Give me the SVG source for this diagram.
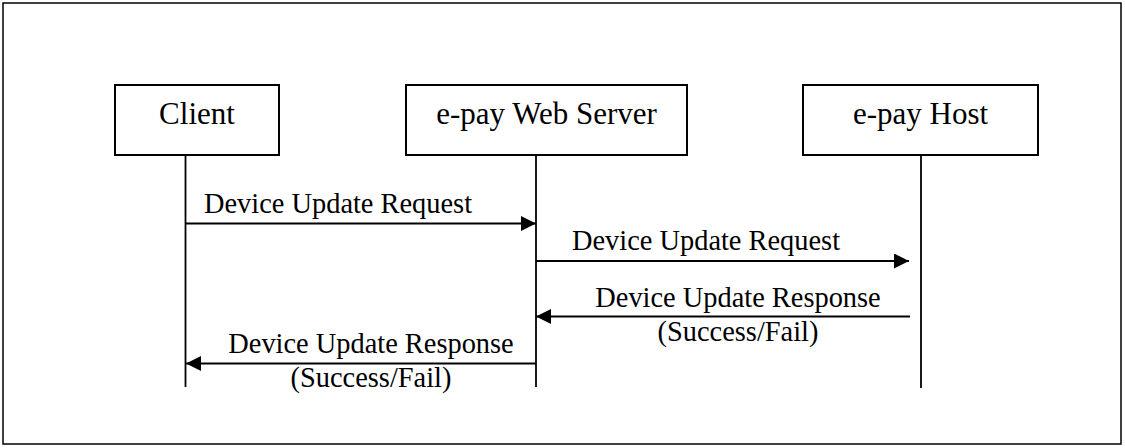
<svg xmlns="http://www.w3.org/2000/svg" width="1125" height="448" viewBox="0 0 1125 448">
  <style>
    .frame { fill: none; stroke: #000; stroke-width: 1.5; }
    .box { fill: #fff; stroke: #000; stroke-width: 2; }
    .life { fill: none; stroke: #000; stroke-width: 1.8; }
    .msg { fill: none; stroke: #000; stroke-width: 1.8; }
    .lbl { font-family: "Liberation Serif", "Times New Roman", serif; font-size: 31px; fill: #000; text-anchor: middle; }
    .mtxt { font-family: "Liberation Serif", "Times New Roman", serif; font-size: 28.4px; fill: #000; }
  </style>
  <defs>
    <marker id="arrow" markerUnits="userSpaceOnUse" markerWidth="15" markerHeight="15" refX="15" refY="7.5" orient="auto">
      <path d="M0,0 L15,7.5 L0,15 z" fill="#000"/>
    </marker>
  </defs>
  <rect width="1125" height="448" fill="#fff"/>
  <rect class="frame" x="3" y="3" width="1118" height="441"/>

  <g id="client">
    <rect class="box" x="115" y="85" width="164" height="70"/>
    <text class="lbl" x="197" y="124">Client</text>
    <line class="life" x1="185.5" y1="155" x2="185.5" y2="387"/>
  </g>
  <g id="webserver">
    <rect class="box" x="406" y="85" width="281" height="70"/>
    <text class="lbl" x="546.5" y="124">e-pay Web Server</text>
    <line class="life" x1="536" y1="155" x2="536" y2="387"/>
  </g>
  <g id="host">
    <rect class="box" x="803" y="85" width="235" height="70"/>
    <text class="lbl" x="920.5" y="124">e-pay Host</text>
    <line class="life" x1="921" y1="155" x2="921" y2="388"/>
  </g>

  <g id="connectors">
    <line class="msg" x1="185.5" y1="223.5" x2="536" y2="223.5" marker-end="url(#arrow)"/>
    <text class="mtxt" x="204" y="213">Device Update Request</text>

    <line class="msg" x1="536" y1="261" x2="909" y2="261" marker-end="url(#arrow)"/>
    <text class="mtxt" x="572" y="250">Device Update Request</text>

    <line class="msg" x1="910" y1="316.5" x2="536" y2="316.5" marker-end="url(#arrow)"/>
    <text class="mtxt" x="738" y="307" text-anchor="middle">Device Update Response</text>
    <text class="mtxt" x="738" y="341" text-anchor="middle">(Success/Fail)</text>

    <line class="msg" x1="536" y1="363.5" x2="186" y2="363.5" marker-end="url(#arrow)"/>
    <text class="mtxt" x="371" y="353" text-anchor="middle">Device Update Response</text>
    <text class="mtxt" x="371" y="387" text-anchor="middle">(Success/Fail)</text>
  </g>
</svg>
